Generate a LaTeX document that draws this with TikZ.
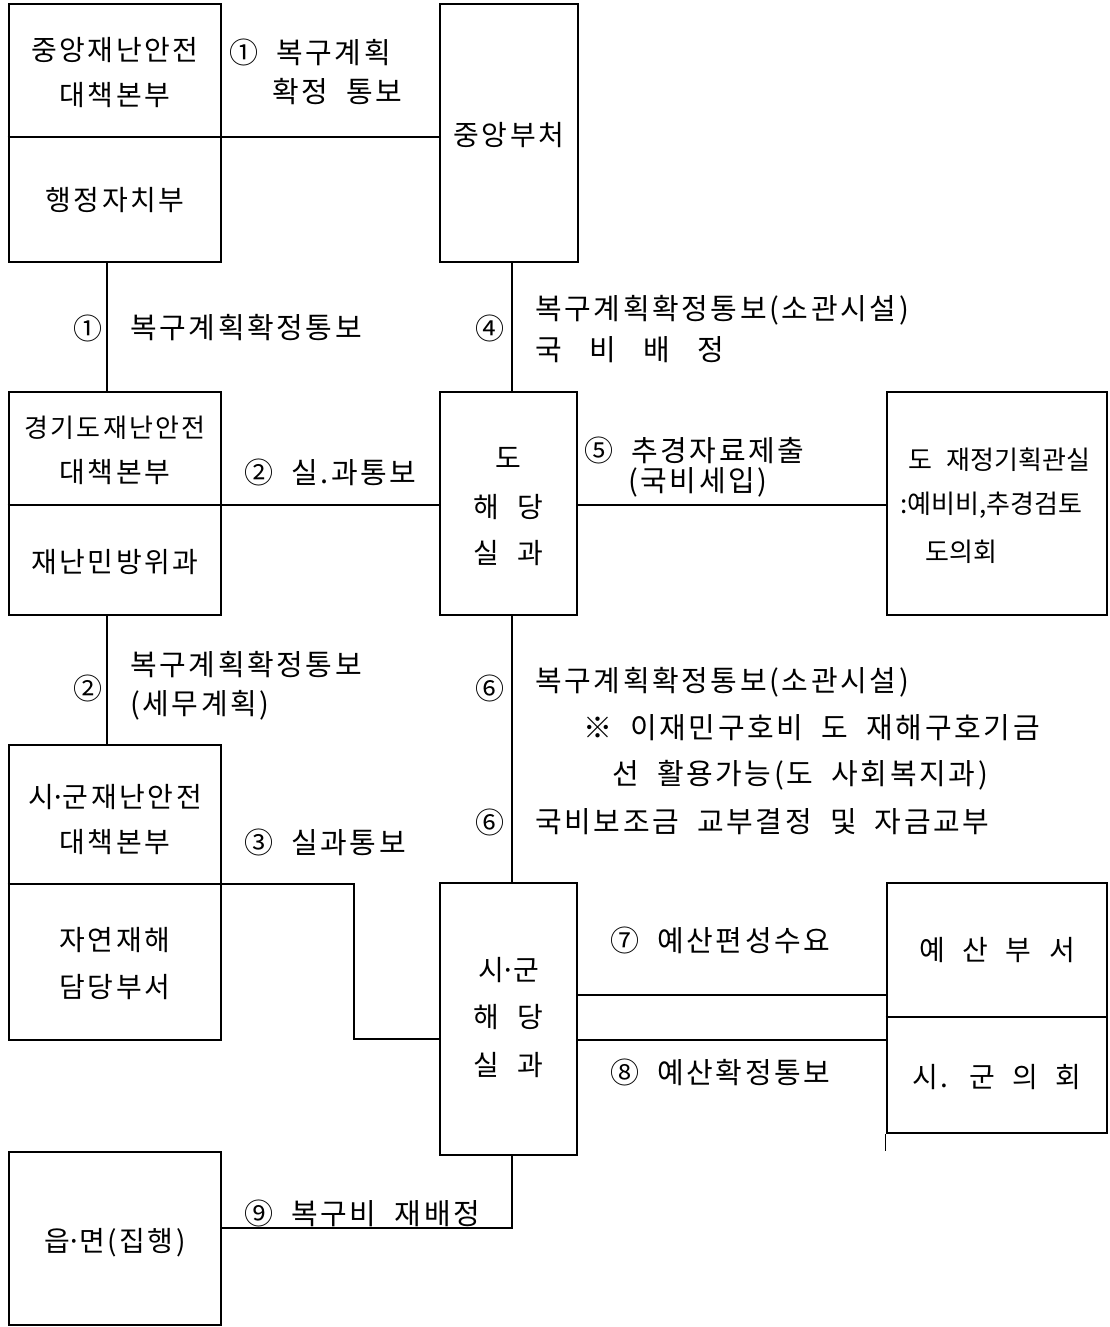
\documentclass[tikz,border=0pt]{standalone}
\usepackage{fontspec}
\setmainfont{Noto Sans CJK KR}[WordSpace=2, LetterSpace=9]
\newfontfamily\plainkr{Noto Sans CJK KR}[WordSpace=2.5]
\usetikzlibrary{calc}
\newcommand{\md}{\kern-0.12em·\kern-0.12em}
\begin{document}
\begin{tikzpicture}[x=1pt,y=-1pt,
  box/.style={draw, line width=2.8pt, inner sep=0pt},
  conn/.style={line width=1.2pt},
  txt/.style={inner sep=0pt, font=\fontsize{28}{30}\selectfont},
  lab/.style={inner sep=0pt, font=\fontsize{29}{31}\selectfont},
  lt/.style={lab, anchor=west},
  ft/.style={inner sep=0pt, anchor=west, font=\plainkr\fontsize{26}{28}\selectfont}]
\useasboundingbox[fill=white] (0,0) rectangle (1110,1327);
% boxes
\node[box, minimum width=212pt, minimum height=258pt] (A) at (115,133) {};
\node[box, minimum width=138pt, minimum height=258pt] (J) at (509,133) {};
\node[box, minimum width=212pt, minimum height=223pt] (B) at (115,503.5) {};
\node[box, minimum width=137pt, minimum height=223pt] (D) at (508.5,503.5) {};
\node[box, minimum width=220pt, minimum height=223pt] (F) at (997,503.5) {};
\node[box, minimum width=212pt, minimum height=295pt] (C) at (115,892.5) {};
\node[box, minimum width=137pt, minimum height=272pt] (S) at (508.5,1019) {};
\node[box, minimum width=220pt, minimum height=250pt] (Y) at (997,1008) {};
\node[box, minimum width=212pt, minimum height=173pt] (E) at (115,1238.5) {};
% dividers
\draw[conn] (A.west |- 0,137) -- (A.east |- 0,137);
\draw[conn] (B.west |- 0,505) -- (B.east |- 0,505);
\draw[conn] (C.west |- 0,884) -- (C.east |- 0,884);
\draw[conn] (Y.west |- 0,1017) -- (Y.east |- 0,1017);
\draw[conn] (Y.south west) -- ++(0,17);
% connectors
\draw[conn] (A.east |- 0,137) -- (J.west |- 0,137);
\draw[conn] (A.south -| 107,0) -- (B.north -| 107,0);
\draw[conn] (J.south -| 512,0) -- (D.north -| 512,0);
\draw[conn] (B.east |- 0,505) -- (D.west |- 0,505);
\draw[conn] (D.east |- 0,505) -- (F.west |- 0,505);
\draw[conn] (B.south -| 107,0) -- (C.north -| 107,0);
\draw[conn] (D.south -| 512,0) -- (S.north -| 512,0);
\draw[conn] (C.east |- 0,884) -| (354,1039) -- (S.west |- 0,1039);
\draw[conn] (S.east |- 0,995) -- (Y.west |- 0,995);
\draw[conn] (S.east |- 0,1040) -- (Y.west |- 0,1040);
\draw[conn] (S.south -| 512,0) |- (E.east |- 0,1228);
% box texts
\node[txt] (a1) at (115,50) {중앙재난안전};
\node[txt] (a2) at (115,95) {대책본부};
\node[txt] (a3) at (115,200) {행정자치부};
\node[txt] (j1) at (509,135) {중앙부처};
\node[txt, font=\fontsize{26}{28}\selectfont] (b1) at (115,428) {경기도재난안전};
\node[txt] (b2) at (115,472) {대책본부};
\node[txt] (b3) at (115,562) {재난민방위과};
\node[txt] (d1) at (508.5,458) {도};
\node[txt] (d2) at (508.5,507) {해 당};
\node[txt] (d3) at (508.5,553) {실 과};
\node[ft] (f1) at (908,460) {도 재정기획관실};
\node[ft] (f2) at (900,505) {:예비비,추경검토};
\node[ft] (f3) at (925,552) {도의회};
\node[txt] (c1) at (115,797) {시\md 군재난안전};
\node[txt] (c2) at (115,842) {대책본부};
\node[txt] (c3) at (115,940) {자연재해};
\node[txt] (c4) at (115,987) {담당부서};
\node[txt] (s1) at (508.5,970) {시\md 군};
\node[txt] (s2) at (508.5,1017) {해 당};
\node[txt] (s3) at (508.5,1065) {실 과};
\node[txt] (y1) at (997,950) {예 산 부 서};
\node[txt] (y2) at (997,1077) {시. 군 의 회};
\node[txt] (e1) at (115,1243) {읍\md 면(집행)};
% connector labels
\node[lt] (l1a) at (229,52) {① 복구계획};
\node[lt] (l1b) at (272,92) {확정 통보};
\node[lab] (n1) at (88,328) {①};
\node[lt] (l1c) at (130,328) {복구계획확정통보};
\node[lab] (n4) at (490,328) {④};
\node[lt] (l4a) at (535,310) {복구계획확정통보(소관시설)};
\node[lt] (l4b) at (535,350) {국\hspace{0.95em}비\hspace{0.95em}배\hspace{0.95em}정};
\node[lt] (l2a) at (244,472) {② 실.과통보};
\node[lt] (l5a) at (584,450) {⑤ 추경자료제출};
\node[lt] (l5b) at (628,482) {(국비세입)};
\node[lab] (n2) at (88,688) {②};
\node[lt] (l2b) at (130,665) {복구계획확정통보};
\node[lt] (l2c) at (130,705) {(세무계획)};
\node[lab] (n6a) at (490,688) {⑥};
\node[lt] (l6a) at (535,682) {복구계획확정통보(소관시설)};
\node[lt] (l6b) at (583,728) {※ 이재민구호비 도 재해구호기금};
\node[lt] (l6c) at (612,775) {선 활용가능(도 사회복지과)};
\node[lab] (n6b) at (490,822) {⑥};
\node[lt] (l6d) at (535,822) {국비보조금 교부결정 및 자금교부};
\node[lt] (l3) at (244,842) {③ 실과통보};
\node[lt] (l7) at (610,940) {⑦ 예산편성수요};
\node[lt] (l8) at (610,1072) {⑧ 예산확정통보};
\node[lt] (l9) at (244,1213) {⑨ 복구비 재배정};
\end{tikzpicture}
\end{document}
